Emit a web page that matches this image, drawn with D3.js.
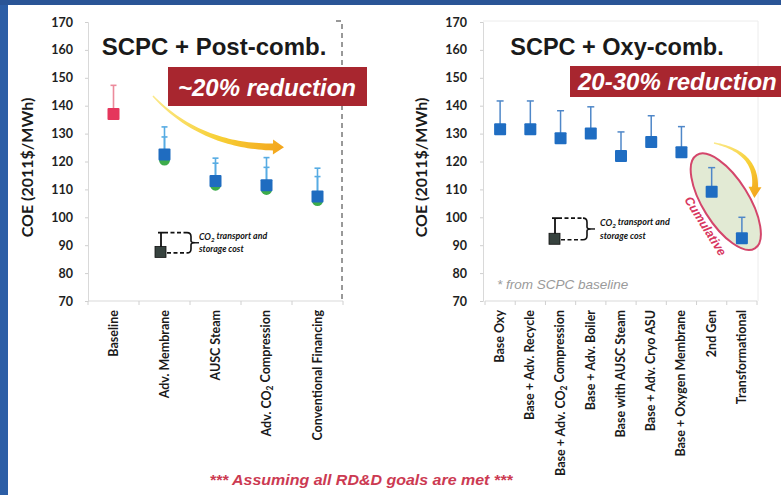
<!DOCTYPE html>
<html>
<head>
<meta charset="utf-8">
<script src="https://cdn.jsdelivr.net/npm/d3@7"></script>
<style>
  html, body { margin: 0; padding: 0; background: #fff; }
  svg { display: block; }
</style>
</head>
<body>
<svg id="chart" width="781" height="495"></svg>
<script>
// ---- Data ------------------------------------------------------------
const yTicks = [70, 80, 90, 100, 110, 120, 130, 140, 150, 160, 170];

// Post-combustion pathway (COE, 2011$/MWh)
const postCategories = ["Baseline", "Adv. Membrane", "AUSC Steam", "Adv. CO2 Compression", "Conventional Financing"];
const postCOE        = [137, 122.5, 113, 111.5, 107.5];
const postCOEHigh    = [147.3, 132.4, 121.2, 121.4, 117.6];
const postAltCOE     = [null, 120.5, 111.5, 110, 106];
const postAltHigh    = [null, 128.8, 119.4, 117.9, 114.6];

// Oxy-combustion pathway (COE, 2011$/MWh)
const oxyCategories = ["Base Oxy", "Base + Adv. Recycle", "Base + Adv.  CO2 Compression", "Base + Adv. Boiler",
                       "Base with AUSC Steam", "Base + Adv. Cryo ASU", "Base + Oxygen Membrane", "2nd Gen", "Transformational"];
const oxyCOE     = [131.6, 131.6, 128.3, 130, 122, 127, 123.3, 109.2, 92.5];
const oxyCOEHigh = [141.7, 141.7, 138.2, 139.6, 130.6, 136.4, 132.5, 117.8, 100];
const cumulativeCategories = ["2nd Gen", "Transformational"];

// Key: example point and its CO2 transport & storage add-on
const postKey = [87.6, 94.5];
const oxyKey  = [92.3, 99.7];

// ---- Setup -----------------------------------------------------------
const svg = d3.select("#chart");
const defs = svg.append("defs");

// frame of the slide
svg.append("rect").attr("x", 0).attr("y", 0).attr("width", 781).attr("height", 495).attr("fill", "#ffffff");
svg.append("rect").attr("x", 0).attr("y", 0).attr("width", 8).attr("height", 495).attr("fill", "#2c5ea6");
svg.append("rect").attr("x", 0).attr("y", 0).attr("width", 781).attr("height", 5).attr("fill", "#2a5596");

const labelFont = "Lato, 'Open Sans', sans-serif";
const headFont = "'Liberation Sans', Arial, sans-serif";

const yPost = d3.scaleLinear().domain([70, 170]).range([301, 22]);
const yOxy  = d3.scaleLinear().domain([70, 170]).range([301, 22]);
const xPost = d3.scaleBand().domain(postCategories).range([88, 343]);
const xOxy  = d3.scaleBand().domain(oxyCategories).range([485, 757]);

// Write a label, turning "CO2" into CO with a subscript 2
function richText(sel, str, subSize) {
  const parts = str.split("CO2");
  parts.forEach((p, i) => {
    if (i > 0) {
      sel.append("tspan").text("CO");
      sel.append("tspan").attr("font-size", subSize).attr("dy", "0.25em").text("2");
      sel.append("tspan").attr("dy", "-0.25em").text(p);
    } else {
      sel.append("tspan").text(p);
    }
  });
}

function drawAxes(g, x, y, axisX, labelRight, titleX) {
  // y axis
  const ya = g.append("g").attr("transform", `translate(${axisX},0)`)
    .call(d3.axisLeft(y).tickValues(yTicks).tickSize(3).tickPadding(axisX - labelRight - 3).tickFormat(d3.format("d")));
  ya.select(".domain").attr("stroke", "#d9d9d9");
  ya.selectAll(".tick line").attr("stroke", "#cfcfcf");
  ya.selectAll(".tick text").attr("font-family", labelFont).attr("font-weight", 700)
    .attr("font-size", 12.5).attr("fill", "#1e1e1e");

  // x axis baseline and band separators
  const [r0, r1] = x.range();
  g.append("line").attr("x1", r0).attr("x2", r1).attr("y1", y(70)).attr("y2", y(70)).attr("stroke", "#d9d9d9");
  const bounds = x.domain().map(d => x(d)).concat([r1]);
  g.selectAll(".xsep").data(bounds).enter().append("line")
    .attr("x1", d => d).attr("x2", d => d).attr("y1", y(70)).attr("y2", y(70) + 4).attr("stroke", "#d0d0d0");

  // rotated category labels
  x.domain().forEach(c => {
    const t = g.append("text")
      .attr("transform", `translate(${x(c) + x.bandwidth() / 2 + 4},${y(70) + 9}) rotate(-90)`)
      .attr("text-anchor", "end")
      .attr("font-family", labelFont).attr("font-weight", 700).attr("font-size", 12.5).attr("fill", "#1a1a1a");
    richText(t, c, 8.5);
  });

  // axis title
  g.append("text")
    .attr("transform", `translate(${titleX},${(y(70) + y(170)) / 2 + 6}) rotate(-90)`)
    .attr("text-anchor", "middle")
    .attr("font-family", labelFont).attr("font-weight", 700).attr("font-size", 16).attr("fill", "#1a1a1a")
    .text("COE (2011$/MWh)");
}

function errorBar(g, x, yLow, yHigh, color, capW, width) {
  g.append("line").attr("x1", x).attr("x2", x).attr("y1", yLow).attr("y2", yHigh)
    .attr("stroke", color).attr("stroke-width", width);
  g.append("line").attr("x1", x - capW / 2).attr("x2", x + capW / 2).attr("y1", yHigh).attr("y2", yHigh)
    .attr("stroke", color).attr("stroke-width", width);
}

function square(g, cx, cy, size, color) {
  g.append("rect").attr("x", cx - size / 2).attr("y", cy - size / 2).attr("width", size).attr("height", size)
    .attr("rx", 1).attr("fill", color);
}

// Tapered curved arrow along a quadratic Bezier
function taperedArrow(g, id, p0, c, p1, w0, w1, headLen, headW) {
  const n = 40, L = [], R = [];
  for (let i = 0; i <= n; i++) {
    const t = i / n;
    const px = (1 - t) * (1 - t) * p0[0] + 2 * (1 - t) * t * c[0] + t * t * p1[0];
    const py = (1 - t) * (1 - t) * p0[1] + 2 * (1 - t) * t * c[1] + t * t * p1[1];
    const dx = 2 * (1 - t) * (c[0] - p0[0]) + 2 * t * (p1[0] - c[0]);
    const dy = 2 * (1 - t) * (c[1] - p0[1]) + 2 * t * (p1[1] - c[1]);
    const len = Math.hypot(dx, dy);
    const nx = -dy / len, ny = dx / len;
    const w = w0 + (w1 - w0) * t;
    L.push([px + nx * w / 2, py + ny * w / 2]);
    R.push([px - nx * w / 2, py - ny * w / 2]);
  }
  const ex = p1[0] - c[0], ey = p1[1] - c[1], el = Math.hypot(ex, ey);
  const ux = ex / el, uy = ey / el, nx = -uy, ny = ux;
  const tip = [p1[0] + ux * headLen, p1[1] + uy * headLen];
  const hl = [p1[0] + nx * headW / 2, p1[1] + ny * headW / 2];
  const hr = [p1[0] - nx * headW / 2, p1[1] - ny * headW / 2];
  const pts = L.concat([hl, tip, hr], R.reverse());

  const grad = defs.append("linearGradient").attr("id", id).attr("gradientUnits", "userSpaceOnUse")
    .attr("x1", p0[0]).attr("y1", p0[1]).attr("x2", tip[0]).attr("y2", tip[1]);
  grad.append("stop").attr("offset", 0).attr("stop-color", "#fbe98a");
  grad.append("stop").attr("offset", 0.55).attr("stop-color", "#f7cf35");
  grad.append("stop").attr("offset", 1).attr("stop-color", "#f3a51c");

  g.append("path").attr("d", "M" + pts.map(p => p.join(",")).join("L") + "Z").attr("fill", `url(#${id})`);
}

function keyGraphic(g, y, cx, valLow, valHigh, bracketX, textX, textY1, fs) {
  const yl = y(valLow), yh = y(valHigh);
  const dash = "4,2.5";
  // dashed reference lines
  g.append("line").attr("x1", cx + 3).attr("x2", bracketX).attr("y1", yh).attr("y2", yh)
    .attr("stroke", "#111").attr("stroke-width", 1.6).attr("stroke-dasharray", dash);
  g.append("line").attr("x1", cx + 6).attr("x2", bracketX).attr("y1", yl + 1).attr("y2", yl + 1)
    .attr("stroke", "#111").attr("stroke-width", 1.6).attr("stroke-dasharray", dash);
  errorBar(g, cx, yl, yh, "#111", 6, 1.8);
  g.append("rect").attr("x", cx - 6).attr("y", yl - 5.5).attr("width", 11).attr("height", 11)
    .attr("fill", "#37433f").attr("stroke", "#111").attr("stroke-width", 0.8);
  // brace
  const top = yh, bot = yl + 1, mid = (top + bot) / 2, bx = bracketX;
  g.append("path")
    .attr("d", `M${bx},${top} Q${bx + 4},${top} ${bx + 4},${top + 4} L${bx + 4},${mid - 2} Q${bx + 4},${mid} ${bx + 8},${mid}` +
               ` M${bx + 4},${mid + 2} Q${bx + 4},${mid} ${bx + 8},${mid} M${bx + 4},${mid + 2} L${bx + 4},${bot - 4} Q${bx + 4},${bot} ${bx},${bot}`)
    .attr("fill", "none").attr("stroke", "#111").attr("stroke-width", 1.6);
  g.append("line").attr("x1", bx + 8).attr("x2", bx + 12).attr("y1", mid).attr("y2", mid)
    .attr("stroke", "#111").attr("stroke-width", 1.4);
  const t1 = g.append("text").attr("x", textX).attr("y", textY1)
    .attr("font-family", labelFont).attr("font-style", "italic").attr("font-weight", 700).attr("font-size", fs).attr("fill", "#111");
  richText(t1, "CO2 transport and", fs * 0.7);
  g.append("text").attr("x", textX).attr("y", textY1 + fs * 1.4)
    .attr("font-family", labelFont).attr("font-style", "italic").attr("font-weight", 700).attr("font-size", fs).attr("fill", "#111")
    .text("storage cost");
}

// ---- Left panel: post-combustion ----------------------------------------
const gl = svg.append("g");
drawAxes(gl, xPost, yPost, 88, 73, 33);

// dashed right border of the plot
gl.append("path").attr("d", `M336,${yPost(170) - 1} L342,${yPost(170) - 1} L342,${yPost(70)}`)
  .attr("fill", "none").attr("stroke", "#333").attr("stroke-width", 1).attr("stroke-dasharray", "5,4");

gl.append("text").attr("x", 214).attr("y", 55).attr("text-anchor", "middle")
  .attr("font-family", headFont).attr("font-weight", 700).attr("font-size", 24).attr("fill", "#1a1a1a")
  .text("SCPC + Post-comb.");

keyGraphic(gl, yPost, 161, postKey[0], postKey[1], 187, 199, 240, 8.8);

// error bars
postCategories.forEach((c, i) => {
  const cx = xPost(c) + xPost.bandwidth() / 2;
  if (i === 0) {
    errorBar(gl, cx, yPost(postCOE[i]), yPost(postCOEHigh[i]), "#ec8b9c", 6, 1.6);
  } else {
    errorBar(gl, cx, yPost(postCOE[i]), yPost(postCOEHigh[i]), "#57ace3", 6, 1.6);
    errorBar(gl, cx, yPost(postAltCOE[i]), yPost(postAltHigh[i]), "#57ace3", 6, 1.6);
  }
});
// markers
postCategories.forEach((c, i) => {
  const cx = xPost(c) + xPost.bandwidth() / 2;
  if (postAltCOE[i] != null) {
    gl.append("circle").attr("cx", cx).attr("cy", yPost(postAltCOE[i])).attr("r", 5.5).attr("fill", "#3dac4b");
  }
  square(gl, cx, yPost(postCOE[i]), 12, i === 0 ? "#e5365c" : "#1f6cc0");
});

// reduction banner and arrow
gl.append("rect").attr("x", 168).attr("y", 67).attr("width", 199).attr("height", 39).attr("fill", "#a8262f");
gl.append("text").attr("x", 267).attr("y", 96).attr("text-anchor", "middle")
  .attr("font-family", headFont).attr("font-weight", 700).attr("font-style", "italic").attr("font-size", 24)
  .attr("fill", "#fff").text("~20% reduction");
taperedArrow(gl, "arrowPost", [153, 96], [200, 146], [273, 147], 1.5, 7, 11, 15);

// ---- Right panel: oxy-combustion ----------------------------------------
const gr = svg.append("g");
drawAxes(gr, xOxy, yOxy, 483, 467, 427);

// faint plot frame
gr.append("path").attr("d", `M483,${yOxy(170) - 1} L758,${yOxy(170) - 1} L758,${yOxy(70)}`)
  .attr("fill", "none").attr("stroke", "#ececec").attr("stroke-width", 1);

gr.append("text").attr("x", 617).attr("y", 55).attr("text-anchor", "middle")
  .attr("font-family", headFont).attr("font-weight", 700).attr("font-size", 23.5).attr("fill", "#1a1a1a")
  .text("SCPC + Oxy-comb.");

// highlight around the cumulative cases
const cumPts = cumulativeCategories.map(c => {
  const i = oxyCategories.indexOf(c);
  return [xOxy(c) + xOxy.bandwidth() / 2, (yOxy(oxyCOE[i]) + yOxy(oxyCOEHigh[i])) / 2];
});
const ecx = (cumPts[0][0] + cumPts[1][0]) / 2 - 1, ecy = (cumPts[0][1] + cumPts[1][1]) / 2 - 2;
const eAng = 58, eRx = 55, eRy = 23;
gr.append("ellipse").attr("cx", ecx).attr("cy", ecy).attr("rx", eRx).attr("ry", eRy)
  .attr("transform", `rotate(${eAng},${ecx},${ecy})`)
  .attr("fill", "#e2ead4").attr("stroke", "#d4466b").attr("stroke-width", 2);
// label runs along the lower-left side of the highlight
const ar = eAng * Math.PI / 180;
const lx = ecx + Math.cos(ar) * 10 - Math.sin(ar) * 30;
const ly = ecy + Math.sin(ar) * 10 + Math.cos(ar) * 30;
gr.append("text").attr("transform", `translate(${lx},${ly}) rotate(${eAng})`)
  .attr("text-anchor", "middle").attr("dy", "0.35em")
  .attr("font-family", headFont).attr("font-weight", 700).attr("font-style", "italic").attr("font-size", 12.5)
  .attr("fill", "#d8375f").text("Cumulative");

keyGraphic(gr, yOxy, 555, oxyKey[0], oxyKey[1], 583, 600, 226, 9);

gr.append("text").attr("x", 497).attr("y", 289)
  .attr("font-family", headFont).attr("font-style", "italic").attr("font-size", 13.5).attr("fill", "#9a9a9a")
  .text("* from SCPC baseline");

oxyCategories.forEach((c, i) => {
  const cx = xOxy(c) + xOxy.bandwidth() / 2;
  errorBar(gr, cx, yOxy(oxyCOE[i]), yOxy(oxyCOEHigh[i]), "#4f87c8", 7, 1.5);
});
oxyCategories.forEach((c, i) => {
  const cx = xOxy(c) + xOxy.bandwidth() / 2;
  square(gr, cx, yOxy(oxyCOE[i]), 12, "#1f6dc2");
});

gr.append("rect").attr("x", 570).attr("y", 66).attr("width", 211).attr("height", 31).attr("fill", "#a8262f");
gr.append("text").attr("x", 578).attr("y", 90)
  .attr("font-family", headFont).attr("font-weight", 700).attr("font-style", "italic").attr("font-size", 24)
  .attr("fill", "#fff").text("20-30% reduction");
taperedArrow(gr, "arrowOxy", [714, 143], [757, 152], [755, 187], 1.5, 6, 11, 13);

// ---- Footnote ----------------------------------------------------------
svg.append("text").attr("x", 361).attr("y", 485).attr("text-anchor", "middle")
  .attr("font-family", headFont).attr("font-weight", 700).attr("font-style", "italic").attr("font-size", 14.5)
  .attr("textLength", 303).attr("lengthAdjust", "spacingAndGlyphs")
  .attr("fill", "#cc3a52").text("*** Assuming all RD&D goals are met ***");
</script>
</body>
</html>
